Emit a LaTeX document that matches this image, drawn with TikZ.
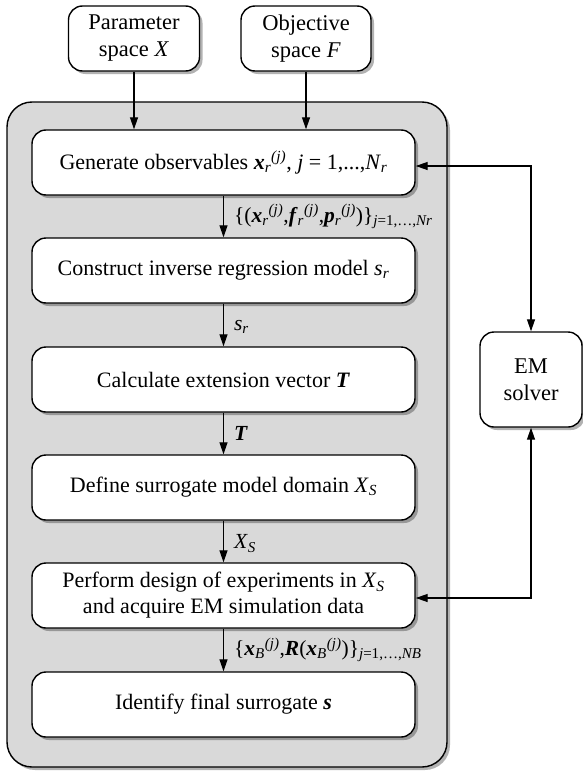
\documentclass[tikz,border=0pt]{standalone}
\usepackage{amsmath}
\usepackage{fontspec}
\setmainfont{Liberation Serif}
\usetikzlibrary{shadows,arrows.meta,calc}
\newcommand{\bvi}[1]{\textbf{\textit{#1}}}
\newcommand{\sbsp}[2]{$_{\text{\itshape #1}}$$^{\text{\itshape #2}}$}
\newcommand{\sbonly}[1]{$_{\text{\itshape #1}}$}
\newcommand{\idx}[1]{$_{\text{\itshape j}\text{=1,\ldots,}\text{\itshape #1}}$}
\begin{document}
\begin{tikzpicture}[x=1pt,y=-1pt,
  shd/.style={drop shadow={shadow xshift=3pt,shadow yshift=-3pt,opacity=0.3,fill=black}},
  sbox/.style={draw=black,line width=1.4pt,fill=white,rounded corners=14pt,shd,align=center,inner sep=2pt,font=\fontsize{22.5}{27}\selectfont},
  mbox/.style={sbox,minimum width=383pt,minimum height=65pt,font=\fontsize{22}{26}\selectfont},
  cont/.style={draw=black,line width=1.4pt,fill=black!15,rounded corners=25pt,shd,inner sep=0pt},
  arr/.style={line width=1.2pt,-{Triangle[length=12pt,width=8pt]}},
  dbl/.style={line width=1.2pt,{Triangle[length=12pt,width=8pt]}-{Triangle[length=12pt,width=8pt]}},
  lab/.style={font=\fontsize{21.5}{24}\selectfont,inner sep=0pt,xshift=10pt}]
\useasboundingbox (0,0) rectangle (583,771);
\node[cont,minimum width=440pt,minimum height=665pt] (cont) at (227,434.5) {};
\node[sbox,minimum width=131pt,minimum height=65pt] (par) at (134,38.5) {Parameter\\space \textit{X}};
\node[sbox,minimum width=130pt,minimum height=65pt] (obj) at (306,38.5) {Objective\\space \textit{F}};
\node[mbox] (g1) at (223.5,162.5) {Generate observables \bvi{x}\sbsp{r}{(j)}, \textit{j} = 1,...,\textit{N}\sbonly{r}};
\node[mbox] (g2) at (223.5,270.5) {Construct inverse regression model \textit{s}\sbonly{r}};
\node[mbox] (g3) at (223.5,379.5) {Calculate extension vector \bvi{T}};
\node[mbox] (g4) at (223.5,487.5) {Define surrogate model domain \textit{X}\sbonly{S}};
\node[mbox] (g5) at (223.5,595.5) {Perform design of experiments in \textit{X}\sbonly{S}\\and acquire EM simulation data};
\node[mbox] (g6) at (223.5,704.5) {Identify final surrogate \bvi{s}};
\node[sbox,minimum width=102pt,minimum height=95pt] (em) at (531,379.5) {EM\\solver};
\draw[arr] (par.south) -- (par.south |- g1.north);
\draw[arr] (obj.south) -- (obj.south |- g1.north);
\draw[arr] (g1.south) -- node[right,lab,pos=0.5] {\{(\bvi{x}\sbsp{r}{(j)},\bvi{f}\sbsp{r}{(j)},\bvi{p}\sbsp{r}{(j)})\}\idx{Nr}} (g2.north);
\draw[arr] (g2.south) -- node[right,lab,pos=0.55] {\textit{s}\sbonly{r}} (g3.north);
\draw[arr] (g3.south) -- node[right,lab,pos=0.5] {\bvi{T}} (g4.north);
\draw[arr] (g4.south) -- node[right,lab,pos=0.55] {\textit{X}\sbonly{S}} (g5.north);
\draw[arr] (g5.south) -- node[right,lab,pos=0.5] {\{\bvi{x}\sbsp{B}{(j)},\bvi{R}(\bvi{x}\sbsp{B}{(j)})\}\idx{NB}} (g6.north);
\draw[dbl] ($(g1.east)+(0,3.5)$) -| (em.north);
\draw[dbl] ($(g5.east)+(0,2.5)$) -| (em.south);
\end{tikzpicture}
\end{document}
